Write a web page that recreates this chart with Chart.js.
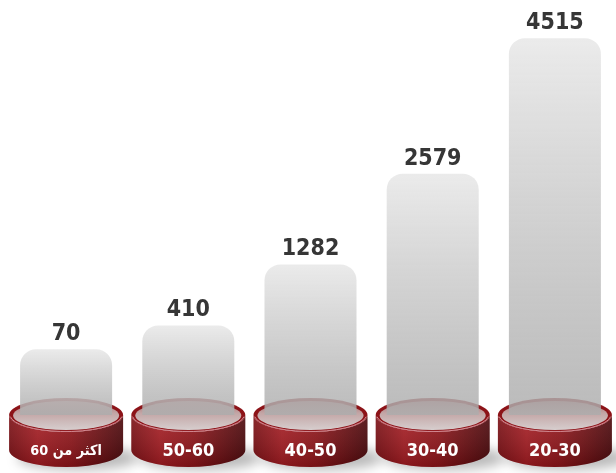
<!DOCTYPE html>
<html><head><meta charset="utf-8">
<script src="https://cdn.jsdelivr.net/npm/chart.js@4"></script>
<style>html,body{margin:0;padding:0;background:#fff}canvas{display:block}</style>
</head><body>
<canvas id="c" width="616" height="473"></canvas>
<script>
const categories = ['اكثر من 60', '50-60', '40-50', '30-40', '20-30'];
const values = [70, 410, 1282, 2579, 4515];
const BAR_BASE = -870;   // bars rise from the pedestal, not from zero (as in the infographic)
const Y_MAX = 5060;

const FONT = "'DejaVu Sans Condensed', 'DejaVu Sans', sans-serif";

function drawPedestal(c, x, yTop) {
  const rx = 57, ry = 17, h = 35;
  // shadow
  c.save();
  c.filter = 'blur(6px)';
  c.fillStyle = 'rgba(0,0,0,0.28)';
  c.beginPath();
  c.ellipse(x + 12, yTop + h + 8, rx + 4, ry - 5, 0, 0, Math.PI * 2);
  c.fill();
  c.restore();

  // body
  c.save();
  c.beginPath();
  c.moveTo(x - rx, yTop);
  c.lineTo(x - rx, yTop + h);
  c.ellipse(x, yTop + h, rx, ry, 0, Math.PI, 0, true);
  c.lineTo(x + rx, yTop);
  c.ellipse(x, yTop, rx, ry, 0, 0, Math.PI, false);
  c.closePath();
  const g = c.createLinearGradient(x - rx, 0, x + rx, 0);
  g.addColorStop(0, '#7a0e13');
  g.addColorStop(0.25, '#a51b21');
  g.addColorStop(0.55, '#8f1419');
  g.addColorStop(1, '#4a070a');
  c.fillStyle = g;
  c.fill();
  const gv = c.createLinearGradient(0, yTop, 0, yTop + h + ry);
  gv.addColorStop(0, 'rgba(255,255,255,0.10)');
  gv.addColorStop(1, 'rgba(0,0,0,0.18)');
  c.fillStyle = gv;
  c.fill();
  c.restore();

  // top surface
  c.save();
  c.beginPath();
  c.ellipse(x, yTop, rx, ry, 0, 0, Math.PI * 2);
  c.fillStyle = '#8c1318';
  c.fill();
  c.beginPath();
  c.ellipse(x, yTop + 0.5, rx - 4, ry - 2.5, 0, 0, Math.PI * 2);
  const gt = c.createLinearGradient(0, yTop - ry, 0, yTop + ry);
  gt.addColorStop(0, '#a45c5e');
  gt.addColorStop(0.45, '#c3a6a6');
  gt.addColorStop(1, '#d9d3d3');
  c.fillStyle = gt;
  c.fill();
  // front rim highlight
  c.beginPath();
  c.ellipse(x, yTop, rx - 1, ry - 0.5, 0, 0.1, Math.PI - 0.1, false);
  c.strokeStyle = 'rgba(230,170,180,0.8)';
  c.lineWidth = 1;
  c.stroke();
  c.restore();
}

const pedestalPlugin = {
  id: 'pedestals',
  beforeDatasetsDraw(chart) {
    const c = chart.ctx;
    const meta = chart.getDatasetMeta(0);
    meta.data.forEach(bar => drawPedestal(c, bar.x, chart.chartArea.bottom));
  },
  afterDatasetsDraw(chart) {
    const c = chart.ctx;
    const meta = chart.getDatasetMeta(0);
    const yScale = chart.scales.y;
    c.save();
    c.textAlign = 'center';
    meta.data.forEach((bar, i) => {
      const top = yScale.getPixelForValue(values[i]);
      c.fillStyle = '#363636';
      c.font = 'bold 23px ' + FONT;
      c.textBaseline = 'alphabetic';
      c.fillText(String(values[i]), bar.x, top - 9);
      c.fillStyle = '#ffffff';
      c.textBaseline = 'middle';
      c.direction = 'rtl';
      let size = 18;
      c.font = 'bold ' + size + 'px ' + FONT;
      const w = c.measureText(categories[i]).width;
      if (w > 72) { size = Math.floor(size * 72 / w * 10) / 10; c.font = 'bold ' + size + 'px ' + FONT; }
      c.fillText(categories[i], bar.x, chart.chartArea.bottom + 36);
      c.direction = 'ltr';
    });
    c.restore();
  }
};

new Chart(document.getElementById('c'), {
  type: 'bar',
  data: {
    labels: categories,
    datasets: [{
      data: values,
      base: BAR_BASE,
      backgroundColor: ctx => {
        const chart = ctx.chart;
        const area = chart.chartArea;
        if (!area || ctx.type !== 'data') return '#d0d0d0';
        const top = chart.scales.y.getPixelForValue(values[ctx.dataIndex]);
        const g = chart.ctx.createLinearGradient(0, top, 0, area.bottom);
        g.addColorStop(0, '#ebebeb');
        g.addColorStop(1, 'rgba(172,172,172,0.82)');
        return g;
      },
      borderWidth: 0,
      borderSkipped: 'start',
      borderRadius: { topLeft: 16, topRight: 16, bottomLeft: 0, bottomRight: 0 },
      barPercentage: 0.753,
      categoryPercentage: 1
    }]
  },
  options: {
    responsive: false,
    animation: false,
    layout: { padding: { left: 5, right: 0, top: 0, bottom: 58 } },
    plugins: { legend: { display: false }, tooltip: { enabled: false } },
    scales: {
      x: { display: false },
      y: { display: false, min: BAR_BASE, max: Y_MAX }
    }
  },
  plugins: [pedestalPlugin]
});
</script>
</body></html>
